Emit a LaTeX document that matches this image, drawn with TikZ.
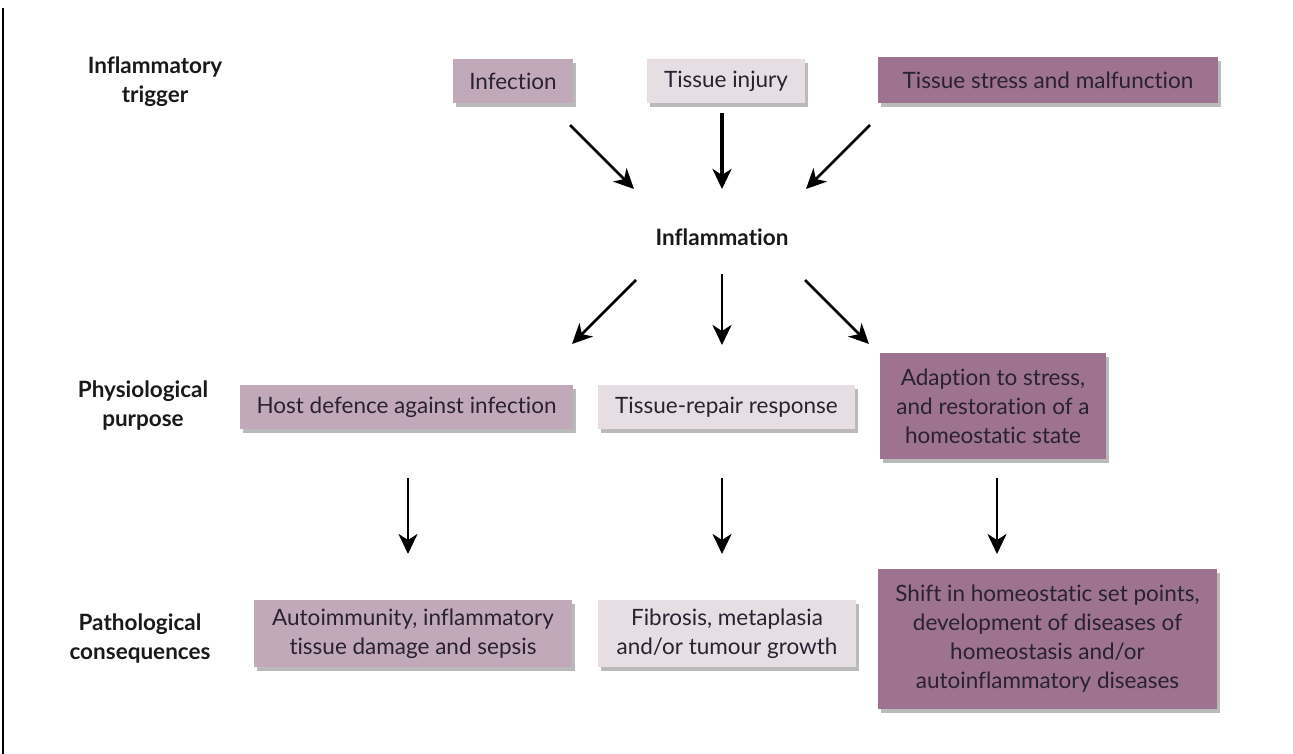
\documentclass[tikz,border=0pt]{standalone}
\usepackage{fontspec}
\setmainfont{Lato}[RawFeature=-liga]
\usetikzlibrary{shadows,arrows.meta}
\definecolor{cA}{HTML}{C1A9B9}
\definecolor{cB}{HTML}{E6DEE3}
\definecolor{cC}{HTML}{9D7390}
\definecolor{txt}{HTML}{2A2230}
\tikzset{
  box/.style={draw=none, inner sep=0pt, align=center, text=txt,
    font=\fontsize{22.5}{29}\selectfont,
    drop shadow={shadow xshift=3pt, shadow yshift=-4pt, opacity=0.45, fill=black!60}},
  lbl/.style={align=center, font=\bfseries\fontsize{22.5}{29}\selectfont, text=black!90},
  arr/.style={line width=2.8pt, -{Stealth[length=20pt,width=19pt,inset=6pt]}},
}
\begin{document}
\begin{tikzpicture}[x=1pt,y=-1pt]
\useasboundingbox (0,0) rectangle (1293,754);
\draw[line width=1.3pt] (3,8) -- (3,754);
% labels
\node[lbl] (l1) at (155,82) {Inflammatory\\trigger};
\node[lbl] (l2) at (143,406) {Physiological\\purpose};
\node[lbl] (l3) at (140,639) {Pathological\\consequences};
\node[lbl] (infl) at (722,237) {Inflammation};
% top row
\node[box, fill=cA, minimum width=120pt, minimum height=44pt] (inf) at (513,81) {Infection};
\node[box, fill=cB, minimum width=158pt, minimum height=44pt] (inj) at (726,81) {Tissue injury};
\node[box, fill=cC, minimum width=340pt, minimum height=46pt] (str) at (1048,80) {Tissue stress and malfunction};
% middle row
\node[box, fill=cA, minimum width=333pt, minimum height=44pt] (host) at (406.5,407) {Host defence against infection};
\node[box, fill=cB, minimum width=257pt, minimum height=44pt] (rep) at (726.5,407) {Tissue-repair response};
\node[box, fill=cC, minimum width=226pt, minimum height=106pt] (ada) at (993,406) {Adaption to stress,\\and restoration of a\\homeostatic state};
% bottom row
\node[box, fill=cA, minimum width=318pt, minimum height=67pt] (auto) at (413,633.5) {Autoimmunity, inflammatory\\tissue damage and sepsis};
\node[box, fill=cB, minimum width=258pt, minimum height=67pt] (fib) at (727,633.5) {Fibrosis, metaplasia\\and/or tumour growth};
\node[box, fill=cC, minimum width=339pt, minimum height=140pt] (shift) at (1047.5,639) {Shift in homeostatic set points,\\development of diseases of\\homeostasis and/or\\autoinflammatory diseases};
% arrow end points
\coordinate (a1s) at (570,125); \coordinate (a1e) at (634,189);
\coordinate (a2s) at (722,113); \coordinate (a2e) at (722,189);
\coordinate (a3s) at (870,125); \coordinate (a3e) at (806,189);
\coordinate (b1s) at (636,280); \coordinate (b1e) at (572,344);
\coordinate (b2s) at (722,274); \coordinate (b2e) at (722,345);
\coordinate (b3s) at (805,280); \coordinate (b3e) at (869,344);
\coordinate (c1s) at (408,478); \coordinate (c1e) at (408,554);
\coordinate (c2s) at (722,478); \coordinate (c2e) at (722,554);
\coordinate (c3s) at (997,478); \coordinate (c3e) at (997,554);
\foreach \p in {a1,a3,b1,b2,b3,c1,c2,c3}
  \draw[arr] (\p s) -- (\p e);
\draw[arr, line width=3.8pt] (a2s) -- (a2e);
\end{tikzpicture}
\end{document}
